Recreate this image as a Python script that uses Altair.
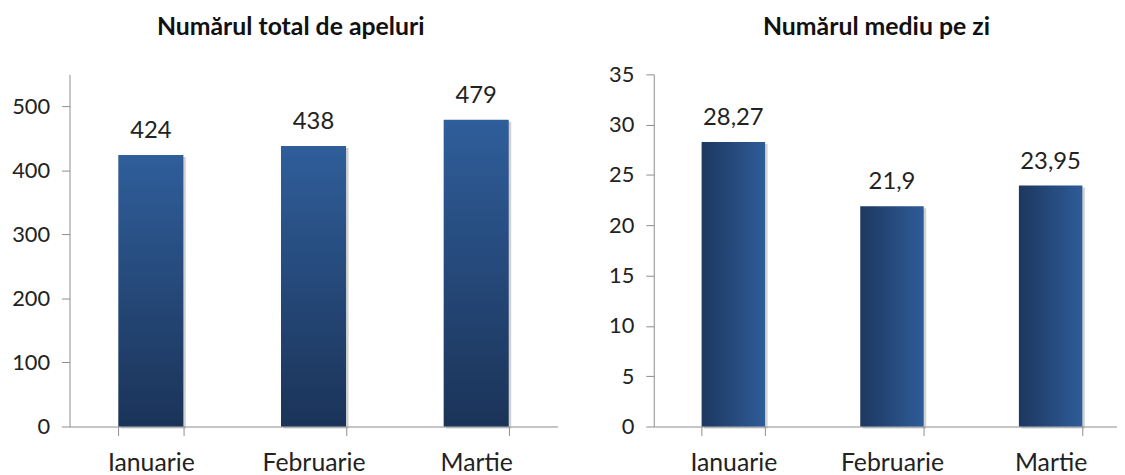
import altair as alt
import pandas as pd

months = ["Ianuarie", "Februarie", "Martie"]
total_calls = [424, 438, 479]
daily_avg = [28.27, 21.9, 23.95]
total_ticks = [0, 100, 200, 300, 400, 500]
daily_ticks = [0, 5, 10, 15, 20, 25, 30, 35]
title_left = "Numărul total de apeluri"
title_right = "Numărul mediu pe zi"

FONT = "Lato"
AXIS_GRAY = "#8c8c8c"
TEXT = "#222222"

df1 = pd.DataFrame({"luna": months, "valoare": total_calls,
                    "eticheta": [str(v) for v in total_calls]})
df2 = pd.DataFrame({"luna": months, "valoare": daily_avg,
                    "eticheta": [f"{v:g}".replace(".", ",") for v in daily_avg]})

grad_vertical = alt.Gradient(
    gradient="linear", x1=0, x2=0, y1=0, y2=1,
    stops=[alt.GradientStop(offset=0, color="#2f5e9a"),
           alt.GradientStop(offset=1, color="#1b3358")])
grad_horizontal = alt.Gradient(
    gradient="linear", x1=0, x2=1, y1=0, y2=0,
    stops=[alt.GradientStop(offset=0, color="#1d3760"),
           alt.GradientStop(offset=1, color="#2e5c98")])


def panel(df, title, ymax, ticks, gradient, width, xscale, yextent, dx, toff):
    x = alt.X("luna:N", sort=months, title=None, scale=xscale,
              axis=alt.Axis(labelAngle=0, tickBand="extent", domainColor=AXIS_GRAY,
                            tickColor=AXIS_GRAY, tickSize=9, labelPadding=15,
                            labelFontSize=25, labelColor=TEXT, labelFont=FONT))
    y = alt.Y("valoare:Q", title=None,
              scale=alt.Scale(domain=[0, ymax], nice=False, zero=True),
              axis=alt.Axis(values=ticks, grid=False, domainColor=AXIS_GRAY,
                            tickColor=AXIS_GRAY, tickSize=8, labelPadding=12,
                            labelFontSize=22, labelColor=TEXT, labelFont=FONT,
                            minExtent=yextent, maxExtent=yextent))
    shadow = alt.Chart(df).mark_bar(color="#9a9a9a", opacity=0.45, xOffset=2.5, x2Offset=2.5,
                                    yOffset=2, y2Offset=1.5).encode(x=x, y=y)
    bars = alt.Chart(df).mark_bar(color=gradient).encode(x=x, y=y)
    labels = alt.Chart(df).mark_text(baseline="bottom", dy=-12, fontSize=24, font=FONT,
                                     color=TEXT).encode(x=x, y=y, text="eticheta:N")
    return alt.layer(shadow, bars, labels).properties(
        width=width, height=355,
        title=alt.Title(title, fontSize=25, font=FONT, fontWeight="bold", color="#111111",
                        offset=toff, dx=dx))


left = panel(df1, title_left, 550, total_ticks, grad_vertical, 492,
             alt.Scale(paddingInner=0.6, paddingOuter=0.3), 55, -23, 35)
right = panel(df2, title_right, 35, daily_ticks, grad_horizontal, 467,
              alt.Scale(paddingInner=0.6, paddingOuter=0.26, align=0.58), 44, -9, 24)

chart = alt.hconcat(left, right, spacing=51).properties(
    padding={"left": 3, "top": 5, "right": 0, "bottom": 0},
    background="white",
).configure_view(stroke=None)

chart.save("out.html", embed_options={"renderer": "svg", "actions": False})
